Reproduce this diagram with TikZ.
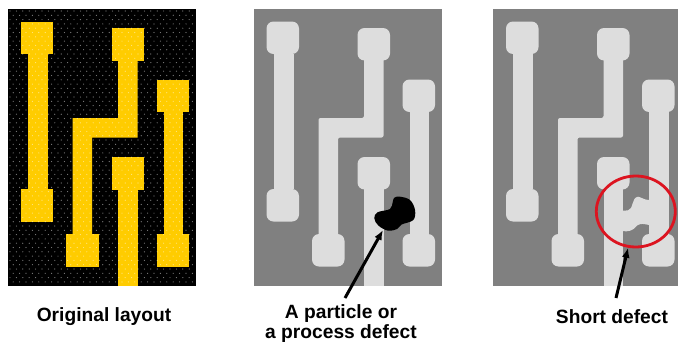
\documentclass[tikz,border=0pt]{standalone}
\usepackage{fontspec}
\setmainfont{Liberation Sans}
\usepackage{xcolor}
\usetikzlibrary{arrows.meta,shapes.geometric}
\definecolor{NetGold}{HTML}{FFCC00}
\definecolor{WaferGrey}{HTML}{808080}
\definecolor{NetGrey}{HTML}{DDDDDD}
\definecolor{RingRed}{HTML}{DC1420}
% one copy of the four nets, #1 = fill colour, #2 = pad corners, #3 = wire corners
\newcommand{\layoutnets}[3]{
 \fill[#1] (27.5,54) rectangle (47.5,189);
 \fill[#1,rounded corners=#3] (118,50) -- (137.5,50) -- (137.5,137.5) -- (92,137.5) -- (92,240) -- (72.5,240) -- (72.5,118) -- (118,118) -- cycle;
 \fill[#1] (118,180) rectangle (137.5,286);
 \fill[#1] (163.5,100) rectangle (183,240);
 \foreach \px/\py in {20.5/21.5,20.5/189,111.5/28,66/234,111.5/157,156.5/79.5,156.5/234}
  \fill[#1,rounded corners=#2] (\px,\py) rectangle ++(32.5,32.5);
}
\begin{document}
\begin{tikzpicture}[x=1pt,y=-1pt, every node/.style={font=\fontsize{19.2}{22}\selectfont\bfseries,inner sep=0pt},
 ring/.style={ellipse,draw=RingRed,line width=2.8pt,minimum width=79pt,minimum height=71pt},
 arr/.style={-{Latex[length=10pt,width=8pt]},line width=3pt,black}]
\useasboundingbox (0,0) rectangle (678,343);
% original layout with its dot screen
\fill[black] (8,9) rectangle (196,286);
\layoutnets{NetGold}{0pt}{0pt}
\foreach \row in {0,...,63}{
 \pgfmathsetmacro{\rowshift}{mod(\row,2)*3.2}
 \foreach \col in {0,...,28}
  \fill[white,opacity=.5] ({10+\rowshift+\col*6.4},{11+\row*4.3}) circle (.6pt);
}
\node (origlabel) at (104,316.5) {Original layout};
% particle
\begin{scope}[shift={(246,0)}]
\fill[WaferGrey] (7.7,9) rectangle (195.5,286);
\layoutnets{NetGrey}{7pt}{2pt}
\end{scope}
\coordinate (blobtip) at (383,230);
\coordinate (blobtail) at (345,298);
\node[align=center] (partlabel) at (341,323.75) {A particle or\\[-1.5pt]a process defect};
\draw[arr] (blobtail) -- (blobtip);
\fill[black] plot[smooth cycle,tension=.6] coordinates {(394.3,197.7) (400,196.7) (410,200) (415,210) (413.3,220) (401.7,224.5) (397,229) (388,230.7) (378.3,225.5) (374.3,218.3) (377.5,212.3) (390,209) (392.7,202)};
% short defect
\begin{scope}[shift={(485.5,0)}]
\fill[WaferGrey] (7.5,9) rectangle (192.5,286);
\layoutnets{NetGrey}{7pt}{2pt}
\end{scope}
\fill[NetGrey] (622,210.7) -- (628,210.4) .. controls (634,209) and (631,198) .. (638,196.7) .. controls (641,197) and (644,200) .. (649,200) -- (649,225) .. controls (644,224) and (641,223) .. (637,225.5) .. controls (633,231) and (628,232) .. (622,231) -- cycle;
\node[ring] (shortring) at (635.8,211.5) {};
\coordinate (shorttail) at (616,298);
\node (shortlabel) at (612,316.5) {Short defect};
\draw[arr] (shorttail) -- (shortring.258);
\end{tikzpicture}
\end{document}
